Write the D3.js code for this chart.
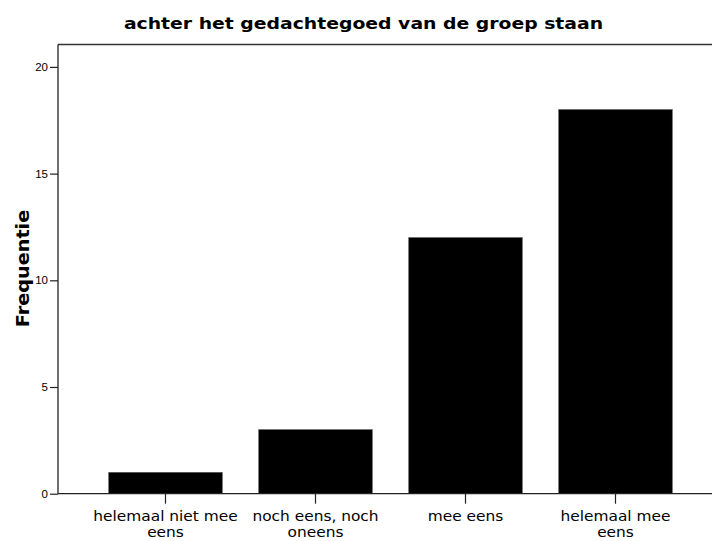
<!DOCTYPE html>
<html>
<head>
<meta charset="utf-8">
<script src="https://cdn.jsdelivr.net/npm/d3@7"></script>
<style>
  body { margin: 0; background: #fff; }
  svg { display: block; }
</style>
</head>
<body>
<script>
// data
const categories = ["helemaal niet mee eens", "noch eens, noch oneens", "mee eens", "helemaal mee eens"];
const labelLines = [["helemaal niet mee", "eens"], ["noch eens, noch", "oneens"], ["mee eens"], ["helemaal mee", "eens"]];
const counts = [1, 3, 12, 18];
const yTicks = [0, 5, 10, 15, 20];

const W = 712, H = 541;
const plotLeft = 58, plotTop = 44.5, plotBottom = 493.7;

const svg = d3.select('body').append('svg')
    .attr('width', W)
    .attr('height', H);

// scales
const x = d3.scaleBand()
    .domain(categories)
    .range([90.5, 690.5])
    .paddingInner(0.243)
    .paddingOuter(0.1215);

const y = d3.scaleLinear()
    .domain([0, 21.05])
    .range([plotBottom, plotTop]);

// title (the original font is wider than DejaVu, so stretch it a bit)
svg.append("text")
    .attr("transform", "translate(363.5,28.5) scale(1.14,1)")
    .attr("text-anchor", "middle")
    .style("font-family", "DejaVu Sans, Verdana, sans-serif")
    .style("font-weight", "bold")
    .style("font-size", "16.5px")
    .text("achter het gedachtegoed van de groep staan");

// bars
svg.selectAll("rect.bar")
    .data(counts)
    .enter()
    .append("rect")
    .attr("class", "bar")
    .attr("x", (d, i) => x(categories[i]))
    .attr("y", d => y(d))
    .attr("width", x.bandwidth())
    .attr("height", d => y(0) - y(d))
    .attr("fill", "#000")
    .attr("stroke", "#555")
    .attr("stroke-width", 0.6);

// top frame line
svg.append("line")
    .attr("x1", plotLeft).attr("x2", W)
    .attr("y1", plotTop).attr("y2", plotTop)
    .attr("stroke", "#333")
    .attr("stroke-width", 1.3);

// y axis
const yAxis = svg.append("g")
    .attr("transform", `translate(${plotLeft},0)`)
    .call(d3.axisLeft(y).tickValues(yTicks).tickSize(8).tickPadding(2));
yAxis.select(".domain").attr("d", `M0,${plotTop}V${plotBottom}`).attr("stroke", "#222").attr("stroke-width", 1.3);
yAxis.selectAll(".tick line").attr("stroke", "#222").attr("stroke-width", 1.2);
yAxis.selectAll("text")
    .style("font-family", "Liberation Sans, Arial, sans-serif")
    .style("font-size", "11.5px")
    .attr("fill", "#000");

// x axis
const xAxis = svg.append("g")
    .attr("transform", `translate(0,${plotBottom})`)
    .call(d3.axisBottom(x).tickSize(10).tickFormat(""));
xAxis.select(".domain").attr("d", `M${plotLeft},0H${W}`).attr("stroke", "#222").attr("stroke-width", 1.3);
xAxis.selectAll(".tick line").attr("stroke", "#222").attr("stroke-width", 1.2);

// two-line category labels
xAxis.selectAll(".tick").each(function (d, i) {
    const tick = d3.select(this);
    labelLines[i].forEach((line, k) => {
        tick.append("text")
            .attr("transform", `translate(0,${26.8 + k * 16.4}) scale(1.1,1)`)
            .attr("text-anchor", "middle")
            .attr("fill", "#000")
            .style("font-family", "DejaVu Sans, Verdana, sans-serif")
            .style("font-size", "14px")
            .text(line);
    });
});

// y label
svg.append("text")
    .attr("transform", "translate(29,268.5) rotate(-90) scale(1.1,1)")
    .attr("text-anchor", "middle")
    .style("font-family", "DejaVu Sans, Verdana, sans-serif")
    .style("font-weight", "bold")
    .style("font-size", "17.5px")
    .text("Frequentie");
</script>
</body>
</html>
